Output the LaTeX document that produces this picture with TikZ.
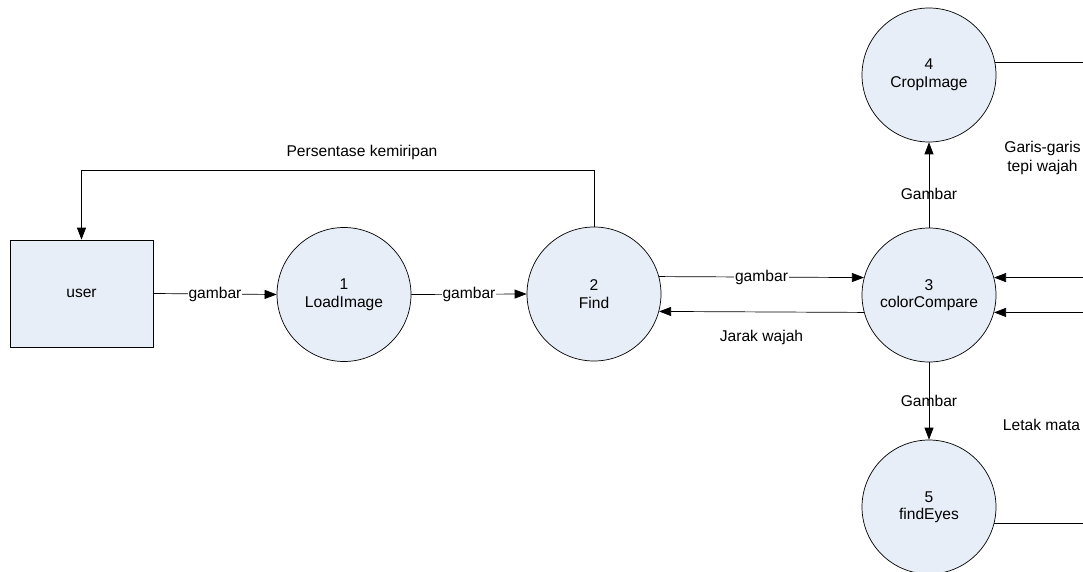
\documentclass[tikz,border=0pt]{standalone}
\usepackage{fontspec}
\setmainfont{Liberation Sans}
\usetikzlibrary{arrows.meta}
\definecolor{procfill}{HTML}{E8EEF7}
\tikzset{
  proc/.style={circle, draw=black, line width=0.7pt, fill=procfill, minimum size=134pt, inner sep=0pt, align=center, font=\fontsize{15.6}{17.5}\selectfont},
  entity/.style={rectangle, draw=black, line width=0.7pt, fill=procfill, minimum width=143pt, minimum height=107pt, inner sep=0pt, font=\fontsize{15.6}{17.5}\selectfont},
  flow/.style={draw=black, line width=0.7pt},
  arr/.style={flow, -{Triangle[length=12pt,width=9pt]}},
  lbl/.style={fill=white, inner sep=1pt, font=\fontsize{15.6}{17.5}\selectfont},
  txt/.style={inner sep=0pt, align=center, font=\fontsize{15.6}{19.5}\selectfont},
}
\begin{document}
\begin{tikzpicture}[x=1pt, y=-1pt]
\useasboundingbox[fill=white] (0,0) rectangle (1083,572);

\node[entity] (user) at (81.5,293.5) {user};
\node[proc] (p1) at (344,294.5) {1\\LoadImage};
\node[proc] (p2) at (594,294) {2\\Find};
\node[proc] (p3) at (929,295) {3\\colorCompare};
\node[proc] (p4) at (929,75) {4\\CropImage};
\node[proc] (p5) at (929,507) {5\\findEyes};

\coordinate (fb) at (81.5,170);
\coordinate (edge) at (1083,0);

% flows
\draw[arr] (user.east) -- node[lbl] {gambar} (p1.west);
\draw[arr] (p1.east) -- node[lbl] {gambar} (p2.west);
\draw[arr] (p2.north) |- (fb) -- (user.north);
\node[txt] (lfb) at (362,152) {Persentase kemiripan};

\draw[arr] (p2.15) -- node[lbl] {gambar} (p3.165);
\draw[arr] (p3.195) -- node[txt, yshift=-26pt] (ljw) {Jarak wajah} (p2.-15);

\draw[arr] (p3.north) -- node[txt, pos=0.4] (lg1) {Gambar} (p4.south);
\draw[arr] (p3.south) -- node[txt, pos=0.5] (lg2) {Gambar} (p5.north);

% right side flows
\draw[flow] (p4.11) -- (p4.11 -| edge);
\draw[arr] (p3.15 -| edge) -- (p3.15);
\draw[arr] (p3.-15 -| edge) -- (p3.-15);
\draw[flow] (p5.-14.7) -- (p5.-14.7 -| edge);

\node[txt] (lgt) at (1042.5,158) {Garis-garis\\tepi wajah};
\node[txt] (llm) at (1041.5,425) {Letak mata};
\end{tikzpicture}
\end{document}
